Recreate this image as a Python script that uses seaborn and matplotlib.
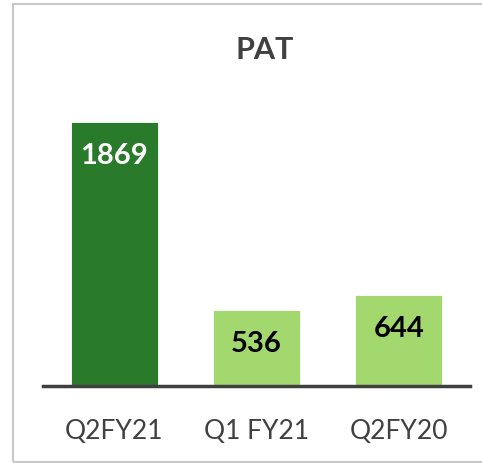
import pandas as pd
import seaborn as sns
import matplotlib.pyplot as plt
from matplotlib.patches import Rectangle

# chart data
quarters = ['Q2FY21', 'Q1 FY21', 'Q2FY20']
pat = [1869, 536, 644]
bar_colors = ['#297a2a', '#a3d86e', '#a3d86e']
label_colors = ['white', 'black', 'black']

sns.set_style('white')
plt.rcParams['font.family'] = ['Lato', 'DejaVu Sans']

df = pd.DataFrame({'quarter': quarters, 'pat': pat})

fig = plt.figure(figsize=(4.82, 4.64), dpi=100)
ax = fig.add_axes([0.0892, 0.166, 0.886, 0.609])

sns.barplot(data=df, x='quarter', y='pat', hue='quarter', palette=bar_colors,
            width=0.61, legend=False, ax=ax, saturation=1)
for p in ax.patches:
    p.set_edgecolor('#ffffff')
    p.set_alpha(1)
    p.set_linewidth(0.6)

# value labels inside the bars
for i, (v, c) in enumerate(zip(pat, label_colors)):
    ax.annotate(str(v), (i, v), xytext=(0, -33), textcoords='offset pixels',
                ha='center', va='center', fontsize=21, fontweight='bold', color=c)

ax.set_xlim(-0.5, 2.5)
ax.set_ylim(0, 2000)
ax.set_yticks([])
ax.set_xlabel('')
ax.set_ylabel('')
for s in ['top', 'right', 'left']:
    ax.spines[s].set_visible(False)
ax.spines['bottom'].set_color('#404040')
ax.spines['bottom'].set_linewidth(2.5)
ax.tick_params(axis='x', length=0, pad=23, labelsize=19, labelcolor='#404040')

fig.text(0.55, 1 - 50 / 464, 'PAT', ha='center', va='center',
         fontsize=22, fontweight='bold', color='#404040')

# chart frame
fig.patches.append(Rectangle((13 / 482, 1 / 464), 1.0, 1 - 6 / 464,
                             transform=fig.transFigure, fill=False,
                             edgecolor='#c8c8c8', linewidth=1.5))

fig.savefig('out.png', dpi=100)
